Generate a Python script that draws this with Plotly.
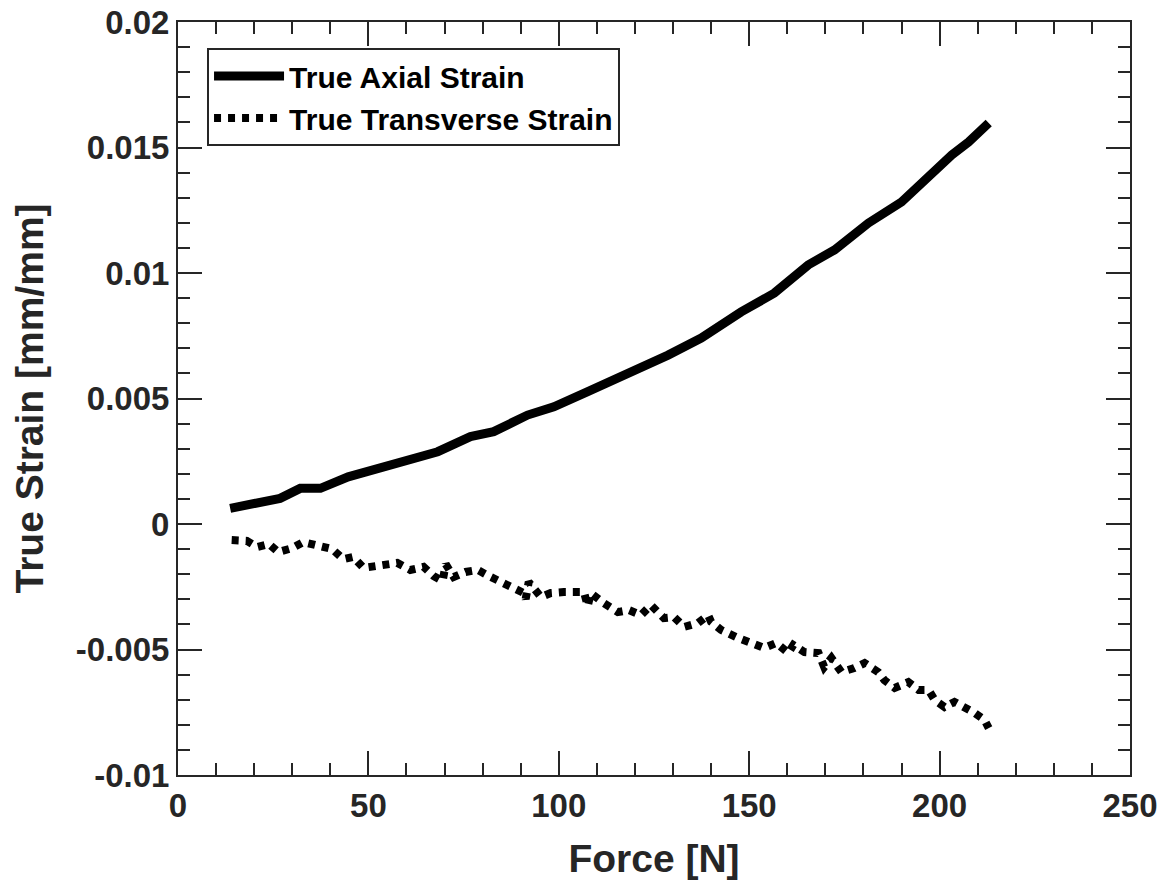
import plotly.graph_objects as go

# True axial strain
axial_force = [13.7, 21.6, 26.8, 32.1, 37.4, 44.7, 50.5, 59.2, 68.2, 76.8, 82.9, 91.8,
               98.7, 107.6, 115.5, 119.7, 128.7, 137.4, 147.9, 156.6, 165.5, 172.4,
               181.3, 190.0, 194.5, 203.2, 207.6, 212.9]
axial_strain = [0.000625, 0.000825, 0.00102, 0.00142, 0.00142, 0.00188, 0.00215, 0.00248,
                0.00288, 0.00348, 0.00368, 0.00434, 0.00467, 0.00527, 0.0058, 0.00614,
                0.00673, 0.00741, 0.00845, 0.0092, 0.01032, 0.01092, 0.01199, 0.01283,
                0.01351, 0.0147, 0.01522, 0.01598]

# True transverse strain
trans_force = [14.1, 18.1, 20.8, 23.9, 26.3, 30.0, 32.9, 36.6, 40.5, 43.4, 46.0, 48.7,
               51.0, 53.9, 57.6, 61.0, 64.5, 67.1, 69.5, 70.3, 72.4, 75.5, 78.7, 82.1,
               85.3, 88.2, 90.8, 91.3, 92.1, 95.3, 97.9, 101.3, 106.6, 107.6, 108.4,
               111.8, 115.5, 118.4, 121.6, 124.2, 127.6, 130.3, 132.9, 136.6, 139.2,
               140.0, 142.6, 147.1, 151.3, 153.9, 157.1, 160.3, 161.6, 164.5, 168.2,
               169.7, 171.6, 174.2, 177.6, 180.3, 183.9, 185.5, 188.2, 191.8, 194.5,
               197.1, 198.7, 201.3, 203.9, 206.6, 209.2, 211.8, 212.9]
trans_strain = [-0.00064, -0.00067, -0.00092, -0.0008, -0.00112, -0.00096, -0.00072,
                -0.00088, -0.001, -0.0014, -0.00131, -0.00175, -0.00171, -0.00163,
                -0.00155, -0.00183, -0.00171, -0.00207, -0.00227, -0.0016, -0.00211,
                -0.00191, -0.00183, -0.00211, -0.00235, -0.00251, -0.00275, -0.00299,
                -0.00231, -0.00291, -0.00275, -0.00271, -0.00271, -0.00327, -0.00275,
                -0.00315, -0.00351, -0.00343, -0.00363, -0.00323, -0.00375, -0.00371,
                -0.0041, -0.00394, -0.00363, -0.0039, -0.00422, -0.00454, -0.00474,
                -0.00494, -0.00474, -0.00514, -0.00482, -0.0051, -0.00514, -0.0057,
                -0.00534, -0.0059, -0.00574, -0.00554, -0.0059, -0.00622, -0.00653,
                -0.0063, -0.00661, -0.00661, -0.00701, -0.00729, -0.00709, -0.00729,
                -0.00753, -0.00781, -0.00813]

x_ticks = [0, 50, 100, 150, 200, 250]
y_ticks = [-0.01, -0.005, 0, 0.005, 0.01, 0.015, 0.02]
y_labels = ["-0.01", "-0.005", "0", "0.005", "0.01", "0.015", "0.02"]

FONT = "Liberation Sans"
AX = "#262626"

fig = go.Figure()
fig.add_trace(go.Scatter(x=axial_force, y=axial_strain, mode="lines",
                         name="<b>True Axial Strain</b>",
                         line=dict(color="black", width=9)))
fig.add_trace(go.Scatter(x=trans_force, y=trans_strain, mode="lines",
                         name="<b>True Transverse Strain</b>",
                         line=dict(color="black", width=8, dash="7px,7px")))

axis_common = dict(showline=True, linecolor=AX, linewidth=2, mirror="allticks",
                   ticks="inside", ticklen=24, tickwidth=2, tickcolor=AX,
                   showgrid=False, zeroline=False,
                   tickfont=dict(family=FONT, size=33, color=AX))

fig.update_xaxes(range=[0, 250], tickvals=x_ticks, ticktext=[f"<b>{v}</b>" for v in x_ticks],
                 minor=dict(dtick=10, ticklen=12, tickwidth=2, tickcolor=AX, ticks="inside"),
                 title=dict(text="<b>Force [N]</b>", font=dict(family=FONT, size=39, color=AX),
                            standoff=22),
                 **axis_common)
fig.update_yaxes(range=[-0.01, 0.02], tickvals=y_ticks, ticktext=[f"<b>{v}</b>" for v in y_labels],
                 minor=dict(dtick=0.001, ticklen=12, tickwidth=2, tickcolor=AX, ticks="inside"),
                 title=dict(text="<b>True Strain [mm/mm]</b>", font=dict(family=FONT, size=39, color=AX),
                            standoff=20),
                 **axis_common)

fig.update_layout(
    width=1162, height=888,
    margin=dict(l=178, r=32, t=22, b=113, autoexpand=False),
    paper_bgcolor="white", plot_bgcolor="white",
    showlegend=True,
    legend=dict(x=0.0305, y=0.9655, xanchor="left", yanchor="top",
                bgcolor="white", bordercolor=AX, borderwidth=2,
                font=dict(family=FONT, size=30, color="black"),
                itemwidth=70, tracegroupgap=0),
)

fig.write_html("out.html")
